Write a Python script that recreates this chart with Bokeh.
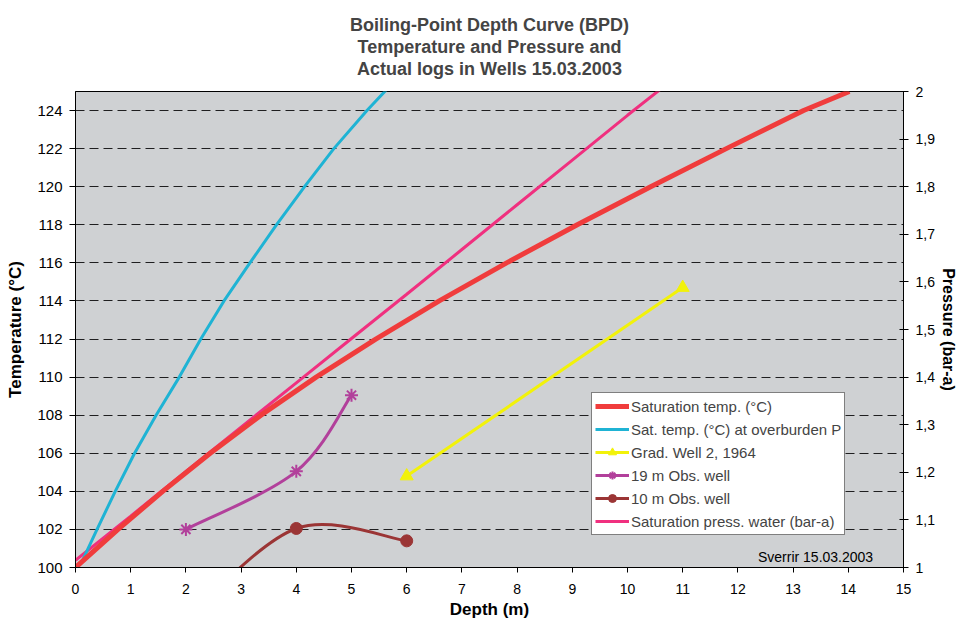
from bokeh.plotting import figure
from bokeh.models import (Range1d, LinearAxis, FixedTicker, Label,
                          Legend, LegendItem)
from bokeh.embed import file_html
from bokeh.resources import INLINE

FONT = "Liberation Sans"

# ---------------- data ----------------
sat_depth = [0, 0.77, 1.58, 2.44, 3.36, 4.36, 5.44, 6.59, 7.81, 9.09, 10.42, 11.79, 13.19, 14.02]
sat_temp = [100, 102, 104, 106, 108, 110, 112, 114, 116, 118, 120, 122, 124, 125]

ovb_depth = [0.1, 0.39, 0.72, 1.07, 1.46, 1.88, 2.27, 2.69, 3.16, 3.64, 4.15, 4.68, 5.28, 5.7]
ovb_temp = [100.2, 102, 104, 106, 108, 110, 112, 114, 116, 118, 120, 122, 124, 125.3]

grad_depth = [6, 11]
grad_temp = [104.8, 114.7]

obs19_depth = [2, 4, 5]
obs19_temp = [102.0, 105.05, 109.05]

obs10_depth = [2, 4, 6]
obs10_temp = [97.3, 102.05, 101.4]

press_depth = [0, 1, 2, 3, 4, 5, 6, 7, 8, 9, 10, 10.6]
press_bar = [1.015, 1.108, 1.202, 1.295, 1.388, 1.481, 1.574, 1.668, 1.762, 1.856, 1.950, 2.005]

x_ticks = list(range(0, 16))
temp_ticks = [100, 102, 104, 106, 108, 110, 112, 114, 116, 118, 120, 122, 124]
press_ticks = [1.0, 1.1, 1.2, 1.3, 1.4, 1.5, 1.6, 1.7, 1.8, 1.9, 2.0]
press_labels = ["1", "1,1", "1,2", "1,3", "1,4", "1,5", "1,6", "1,7", "1,8", "1,9", "2"]

title_lines = ["Boiling-Point Depth Curve (BPD)",
               "Temperature and Pressure and",
               "Actual logs in Wells 15.03.2003"]

labels = ["Saturation temp. (\u00b0C)",
          "Sat. temp. (\u00b0C) at overburden P",
          "Grad. Well 2, 1964",
          "19 m Obs. well",
          "10 m Obs. well",
          "Saturation press. water (bar-a)"]

C_RED = "#f03c3c"
C_CYAN = "#1fb3d4"
C_YEL = "#f2f20a"
C_MAG = "#b2409b"
C_BRN = "#9b3535"
C_PINK = "#f0307f"

# ---------------- figure ----------------
p = figure(width=959, height=624, x_range=Range1d(0, 15), y_range=Range1d(100, 125),
           output_backend="svg", toolbar_location=None,
           min_border_left=75, min_border_right=51, min_border_top=87, min_border_bottom=57,
           background_fill_color="#cfd1d3", border_fill_color="white",
           outline_line_color="black", outline_line_width=1)
p.extra_y_ranges = {"press": Range1d(1, 2)}

p.title.text = "\n".join(title_lines)
p.title.align = "center"
p.title.text_font = FONT
p.title.text_font_size = "18px"
p.title.text_font_style = "bold"
p.title.text_line_height = 1.12
p.title.standoff = 24
try:
    p.title.text_align = "center"
except Exception:
    pass

# axes
p.xaxis.ticker = FixedTicker(ticks=x_ticks)
p.xaxis.axis_label = "Depth (m)"
p.yaxis.ticker = FixedTicker(ticks=temp_ticks)
p.yaxis.axis_label = "Temperature (\u00b0C)"

right = LinearAxis(y_range_name="press", ticker=FixedTicker(ticks=press_ticks),
                   major_label_overrides={t: l for t, l in zip(press_ticks, press_labels)},
                   axis_label="Pressure (bar-a)")
p.add_layout(right, "right")

for ax in [p.xaxis[0], p.yaxis[0], right]:
    ax.axis_line_color = "black"
    ax.major_tick_line_color = "black"
    ax.minor_tick_line_color = None
    ax.major_label_text_font = FONT
    ax.major_label_text_font_size = "14px"
    ax.major_label_text_color = "black"
    ax.axis_label_text_font = FONT
    ax.axis_label_text_font_size = "17px"
    ax.axis_label_text_font_style = "bold"
    ax.axis_label_text_color = "black"

p.yaxis[0].major_label_text_font_size = "15px"
right.axis_label_text_font_size = "16px"

p.xaxis.major_tick_out = 5
p.xaxis.major_tick_in = 0
p.xaxis.major_label_standoff = 11
p.xaxis.axis_label_standoff = 3
p.yaxis[0].major_tick_out = 6
p.yaxis[0].major_tick_in = 0
p.yaxis[0].major_label_standoff = 7
p.yaxis[0].axis_label_standoff = 9
right.major_tick_out = 5
right.major_tick_in = 4
right.major_label_standoff = 7
right.axis_label_standoff = 2

p.xgrid.visible = False
p.ygrid.grid_line_color = "black"
p.ygrid.grid_line_alpha = 0.85
p.ygrid.grid_line_dash = "9 5"
p.ygrid.grid_line_width = 1


# ---------------- smooth (Excel-like) curves for the well logs ----------------
def smooth(xs, ys):
    n = len(xs)
    d = dict(x0=[], y0=[], x1=[], y1=[], cx0=[], cy0=[], cx1=[], cy1=[])
    for i in range(n - 1):
        xa, ya = xs[i], ys[i]
        xb, yb = xs[i + 1], ys[i + 1]
        xm, ym = (xs[i - 1], ys[i - 1]) if i > 0 else (xa, ya)
        xp, yp = (xs[i + 2], ys[i + 2]) if i + 2 < n else (xb, yb)
        d["x0"].append(xa); d["y0"].append(ya)
        d["x1"].append(xb); d["y1"].append(yb)
        d["cx0"].append(xa + (xb - xm) / 6); d["cy0"].append(ya + (yb - ym) / 6)
        d["cx1"].append(xb - (xp - xa) / 6); d["cy1"].append(yb - (yp - ya) / 6)
    return d


# ---------------- data renderers ----------------
r_pink = p.line(press_depth, press_bar, line_color=C_PINK, line_width=3, y_range_name="press")
r_cyan = p.line(ovb_depth, ovb_temp, line_color=C_CYAN, line_width=3)
r_red = p.line(sat_depth, sat_temp, line_color=C_RED, line_width=5)
r_yel = p.line(grad_depth, grad_temp, line_color=C_YEL, line_width=3)
m_yel = p.scatter(grad_depth, grad_temp, marker="triangle", size=13, fill_color=C_YEL, line_color=C_YEL)
p.bezier(**smooth(obs19_depth, obs19_temp), line_color=C_MAG, line_width=3)
m_mag = p.scatter(obs19_depth, obs19_temp, marker="asterisk", size=13, line_color=C_MAG, line_width=2)
p.bezier(**smooth(obs10_depth, obs10_temp), line_color=C_BRN, line_width=3)
m_brn = p.scatter(obs10_depth, obs10_temp, marker="circle", size=12, fill_color=C_BRN, line_color=C_BRN)

# hidden straight-line twins of the smoothed logs, used only as legend glyphs
l_mag = p.line(obs19_depth, obs19_temp, line_color=C_MAG, line_width=3, visible=False)
l_brn = p.line(obs10_depth, obs10_temp, line_color=C_BRN, line_width=3, visible=False)

legend = Legend(items=[
    LegendItem(label=labels[0], renderers=[r_red]),
    LegendItem(label=labels[1], renderers=[r_cyan]),
    LegendItem(label=labels[2], renderers=[r_yel, m_yel]),
    LegendItem(label=labels[3], renderers=[l_mag, m_mag]),
    LegendItem(label=labels[4], renderers=[l_brn, m_brn]),
    LegendItem(label=labels[5], renderers=[r_pink]),
], location=(516, 32), label_text_font=FONT, label_text_font_size="15px",
    glyph_width=34, glyph_height=20, label_height=20, spacing=3, padding=3, margin=0,
    label_standoff=2, border_line_color="black", border_line_width=1,
    background_fill_color="white", background_fill_alpha=1.0,
    inactive_fill_alpha=0.0, click_policy="none")
p.add_layout(legend, "center")

p.add_layout(Label(x=14.45, y=100.12, text="Sverrir 15.03.2003", text_align="right",
                   text_baseline="bottom", text_font=FONT, text_font_size="14px",
                   text_color="black"))

open("out.html", "w").write(file_html(p, INLINE))
